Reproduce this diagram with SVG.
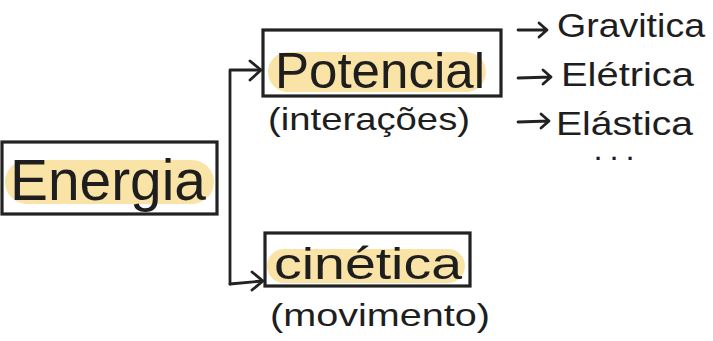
<svg xmlns="http://www.w3.org/2000/svg" width="713" height="341" viewBox="0 0 713 341">
  <defs>
    <style>
      .box { fill: none; stroke: #222; stroke-width: 3.2; }
      .hl { fill: #f9e3a6; }
      .wire { fill: none; stroke: #222; stroke-width: 2.8; stroke-linecap: round; stroke-linejoin: round; }
      .t { font-family: "Liberation Sans", Arial, sans-serif; fill: #1e1e1e; }
    </style>
  </defs>
  <rect width="713" height="341" fill="#ffffff"/>

  <!-- connectors -->
  <g id="connectors">
    <path class="wire" d="M230 284 L230 70 L260 70"/>
    <path class="wire" d="M250 61 L261 70 L250 80"/>
    <path class="wire" d="M230 284 L262 281"/>
    <path class="wire" d="M252 272 L263 281 L252 290"/>
    <!-- small arrows to the list -->
    <path class="wire" d="M518 30 L547 30 M539 23 L547 30 L539 37"/>
    <path class="wire" d="M518 78 L551 77 M543 70 L551 77 L543 84"/>
    <path class="wire" d="M518 122 L549 121 M541 114 L549 121 L541 128"/>
  </g>

  <!-- Energia -->
  <g id="energia">
    <rect class="hl" x="5" y="160" width="209" height="44" rx="22"/>
    <rect class="box" x="2" y="142" width="215" height="72"/>
    <text class="t" x="10" y="200" font-size="58" textLength="196" lengthAdjust="spacingAndGlyphs">Energia</text>
  </g>

  <!-- Potencial -->
  <g id="potencial">
    <rect class="hl" x="268" y="52" width="218" height="40" rx="20"/>
    <rect class="box" x="263" y="30" width="238" height="66"/>
    <text class="t" x="275" y="88" font-size="50" textLength="210" lengthAdjust="spacingAndGlyphs">Potencial</text>
    <text class="t" x="268" y="130" font-size="32" textLength="202" lengthAdjust="spacingAndGlyphs">(interações)</text>
  </g>

  <!-- cinética -->
  <g id="cinetica">
    <rect class="hl" x="267" y="249" width="198" height="34" rx="17"/>
    <rect class="box" x="265" y="233" width="205" height="53"/>
    <text class="t" x="274" y="279" font-size="44" textLength="188" lengthAdjust="spacingAndGlyphs">cinética</text>
    <text class="t" x="270" y="326" font-size="32" textLength="220" lengthAdjust="spacingAndGlyphs">(movimento)</text>
  </g>

  <!-- types of potential energy -->
  <g id="tipos">
    <text class="t" x="557" y="37" font-size="34" textLength="148" lengthAdjust="spacingAndGlyphs">Gravitica</text>
    <text class="t" x="561" y="86" font-size="34" textLength="133" lengthAdjust="spacingAndGlyphs">Elétrica</text>
    <text class="t" x="556" y="135" font-size="34" textLength="137" lengthAdjust="spacingAndGlyphs">Elástica</text>
    <text class="t" x="595" y="160" font-size="22" font-weight="bold" textLength="38" lengthAdjust="spacing">...</text>
  </g>
</svg>
